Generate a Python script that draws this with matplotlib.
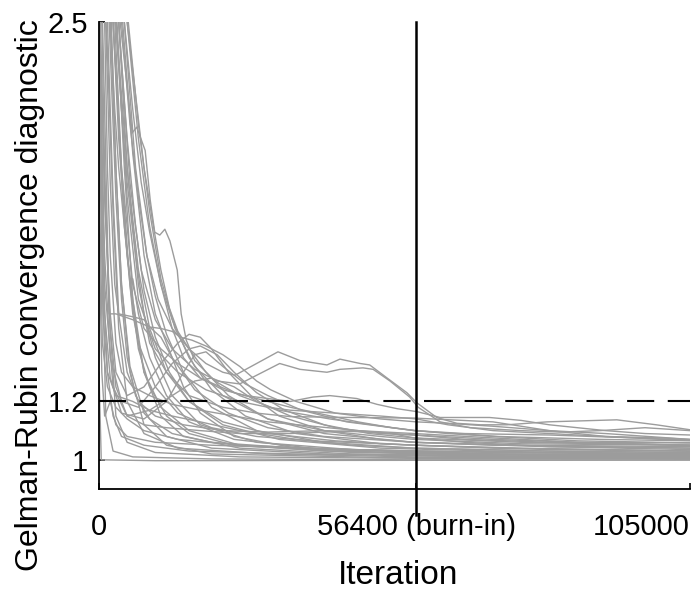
import matplotlib
matplotlib.use('Agg')
import matplotlib.pyplot as plt

plt.rcParams.update({'font.family': 'Liberation Sans', 'font.size': 21})

BURN_IN = 56400
N_ITER = 105000
RHAT_LIMIT = 1.2
X_TICKS = [0, BURN_IN, N_ITER]
X_TICK_LABELS = ['0', '56400 (burn-in)', '105000']
Y_TICKS = [1, 1.2, 2.5]
Y_TICK_LABELS = ['1', '1.2', '2.5']

# Gelman-Rubin trace per parameter:
# (iteration in thousands, diagnostic value)
CHAINS = [
    [(0, 1.3), (0.4, 1.0), (10, 0.997), (40, 0.998), (105, 0.999)],
    [(0, 2.9), (0.6, 1.7), (1.2, 1.15), (2.5, 1.03), (6, 1.01), (20, 1.003), (56, 1.0), (105, 1.0)],
    [(0, 3.0), (1.0, 2.2), (1.8, 1.5), (3, 1.15), (5, 1.06), (10, 1.025), (25, 1.01), (56, 1.005), (105, 1.004)],
    [(0, 3.0), (1.5, 2.4), (2.5, 1.85), (3.5, 1.45), (5, 1.2), (8, 1.09), (14, 1.04), (30, 1.02), (56, 1.01), (105, 1.008)],
    [(0, 3.1), (2.0, 2.5), (3, 2.0), (4, 1.6), (5.5, 1.32), (8, 1.16), (12, 1.08), (20, 1.04), (40, 1.02), (70, 1.012), (105, 1.01)],
    [(0, 3.0), (2.5, 2.5), (3.5, 2.15), (4.5, 1.8), (6, 1.5), (8, 1.3), (11, 1.18), (16, 1.1), (25, 1.05), (45, 1.025), (80, 1.015), (105, 1.012)],
    [(0, 3.2), (3, 2.5), (4, 2.2), (5, 1.95), (6.5, 1.7), (8, 1.5), (10, 1.35), (13, 1.22), (18, 1.12), (28, 1.06), (45, 1.035), (70, 1.02), (105, 1.018)],
    [(0, 3.2), (3.5, 2.5), (5, 2.1), (6.5, 1.8), (8, 1.58), (10, 1.42), (12.5, 1.3), (16, 1.2), (22, 1.12), (32, 1.07), (50, 1.04), (80, 1.025), (105, 1.02)],
    [(0, 3.3), (4, 2.5), (5.5, 2.15), (7, 1.9), (8.5, 1.7), (10, 1.56), (12, 1.43), (15, 1.3), (20, 1.18), (28, 1.1), (40, 1.06), (56, 1.04), (80, 1.03), (105, 1.025)],
    [(0, 3.3), (4.5, 2.5), (6, 2.2), (7.5, 1.95), (9, 1.78), (11, 1.6), (13, 1.48), (16, 1.35), (20, 1.24), (26, 1.15), (35, 1.09), (50, 1.055), (70, 1.04), (105, 1.03)],
    [(0, 3.3), (3.7, 2.51), (5.9, 2.12), (6.7, 2.14), (8.2, 2.06), (9.1, 1.89), (9.9, 1.78), (10.8, 1.77), (11.7, 1.79), (12.6, 1.75), (13.9, 1.65), (14.6, 1.5), (15.5, 1.41), (17, 1.34), (20.6, 1.27), (25, 1.22), (32, 1.17), (41, 1.14), (56, 1.1), (71, 1.08), (89, 1.07), (105, 1.065)],
    [(0, 3.3), (5, 2.5), (6.5, 2.25), (8, 2.0), (9.5, 1.82), (11, 1.65), (12.5, 1.52), (14, 1.44), (16, 1.38), (19, 1.3), (23, 1.22), (30, 1.14), (40, 1.09), (56, 1.06), (80, 1.045), (105, 1.04)],
    [(0, 3.1), (2, 2.5), (2.8, 2.2), (3.5, 2.0), (4.5, 1.8), (5.5, 1.62), (6, 1.62), (7, 1.5), (9, 1.35), (12, 1.22), (16, 1.13), (24, 1.07), (40, 1.035), (70, 1.02), (105, 1.015)],
    [(0, 3.0), (1.2, 2.5), (2, 1.95), (2.8, 1.6), (3.5, 1.5), (6, 1.49), (8, 1.48), (9, 1.455), (11, 1.42), (13, 1.35), (15, 1.25), (18, 1.16), (24, 1.08), (35, 1.04), (56, 1.02), (105, 1.01)],
    [(0, 2.7), (1, 1.9), (2, 1.5), (3, 1.3), (5, 1.22), (8, 1.25), (11, 1.33), (14, 1.4), (16, 1.43), (18, 1.42), (20, 1.38), (23, 1.3), (27, 1.22), (32, 1.15), (40, 1.1), (50, 1.07), (56, 1.06), (70, 1.05), (90, 1.045), (105, 1.04)],
    [(0, 2.5), (1, 1.7), (2, 1.35), (4, 1.2), (7, 1.18), (10, 1.25), (13, 1.33), (16, 1.38), (18, 1.39), (21, 1.36), (24, 1.3), (28, 1.23), (33, 1.17), (40, 1.12), (48, 1.09), (56, 1.075), (75, 1.06), (105, 1.05)],
    [(0, 2.2), (1, 1.5), (2, 1.28), (4, 1.16), (8, 1.14), (12, 1.2), (15, 1.3), (17, 1.36), (19, 1.37), (22, 1.32), (26, 1.26), (30, 1.22), (36, 1.17), (44, 1.13), (56, 1.1), (65, 1.09), (80, 1.085), (95, 1.075), (105, 1.068)],
    [(0, 3.0), (1, 2.0), (1.8, 1.5), (3, 1.5), (6, 1.48), (9, 1.455), (11, 1.45), (13, 1.44), (14.5, 1.42), (16.5, 1.41), (19, 1.39), (22, 1.36), (25, 1.32), (28, 1.27), (30.5, 1.24), (35, 1.2), (42, 1.16), (50, 1.14), (56.4, 1.13), (62, 1.125), (70, 1.115), (80, 1.1), (90, 1.09), (105, 1.07)],
    [(0, 3.2), (4.5, 2.5), (6.5, 2.0), (8.5, 1.7), (10.5, 1.55), (13, 1.45), (16, 1.38), (19, 1.33), (22, 1.3), (24.2, 1.29), (31.8, 1.37), (35.7, 1.34), (40.5, 1.325), (42.8, 1.345), (46.4, 1.33), (48.1, 1.325), (51.2, 1.28), (54.7, 1.23), (56.5, 1.195), (60, 1.145), (63.6, 1.125), (67.7, 1.12), (72.5, 1.12), (79.6, 1.13), (92, 1.137), (99, 1.12), (105, 1.103)],
    [(0, 3.1), (3.5, 2.5), (5.5, 1.95), (7.5, 1.65), (10, 1.48), (13, 1.38), (17, 1.31), (21, 1.27), (25, 1.26), (32.1, 1.33), (35.7, 1.31), (40.5, 1.3), (42.8, 1.31), (46.9, 1.315), (48.7, 1.31), (51.7, 1.27), (55.2, 1.215), (56.7, 1.18), (60.6, 1.13), (66, 1.11), (75, 1.1), (82, 1.095), (89, 1.1), (97, 1.11), (105, 1.1)],
    [(0, 3.3), (5, 2.5), (7, 2.1), (9, 1.8), (11, 1.6), (13, 1.45), (15, 1.35), (18, 1.28), (22, 1.24), (26, 1.22), (30, 1.21), (34, 1.2), (38, 1.215), (41, 1.22), (45.8, 1.21), (49.4, 1.19), (53, 1.175), (56.5, 1.165), (60.6, 1.145), (69.4, 1.145), (75, 1.135), (80, 1.12), (90, 1.1), (97, 1.09), (105, 1.085)],
    [(0, 3.0), (3, 2.5), (5, 2.0), (7, 1.6), (9, 1.4), (12, 1.3), (16, 1.22), (22, 1.18), (28, 1.16), (34, 1.148), (45, 1.145), (56, 1.143), (70, 1.13), (80, 1.1), (90, 1.08), (100, 1.07), (105, 1.068)],
    [(0, 3.0), (2.5, 2.5), (4, 2.0), (6, 1.6), (8, 1.45), (11, 1.38), (14, 1.33), (18, 1.28), (24, 1.23), (30, 1.2), (34, 1.18), (40, 1.155), (46, 1.13), (52, 1.11), (56.4, 1.1), (62, 1.09), (70, 1.08), (85, 1.065), (105, 1.058)],
    [(0, 3.0), (3, 2.5), (5, 1.9), (7, 1.55), (10, 1.38), (14, 1.3), (19, 1.24), (25, 1.2), (30, 1.18), (34, 1.17), (42, 1.16), (50, 1.15), (56.4, 1.14), (62, 1.12), (70, 1.1), (80, 1.09), (90, 1.08), (100, 1.075), (105, 1.07)],
    [(0, 3.0), (1.5, 2.5), (2.5, 1.9), (3.5, 1.5), (5, 1.3), (7, 1.2), (10, 1.15), (15, 1.12), (22, 1.1), (30, 1.095), (40, 1.1), (48, 1.095), (56, 1.085), (65, 1.07), (80, 1.06), (105, 1.05)],
    [(0, 2.6), (1, 1.9), (2, 1.45), (3, 1.25), (5, 1.15), (8, 1.12), (12, 1.11), (18, 1.1), (25, 1.09), (34, 1.09), (40, 1.095), (46, 1.1), (52, 1.09), (56, 1.075), (65, 1.06), (80, 1.045), (105, 1.035)],
    [(0, 3.0), (2.5, 2.5), (3.5, 2.1), (5, 1.7), (7, 1.4), (10, 1.25), (14, 1.16), (20, 1.11), (28, 1.08), (38, 1.065), (50, 1.055), (56, 1.05), (75, 1.04), (105, 1.03)],
    [(0, 3.0), (3.5, 2.5), (5, 2.0), (7, 1.65), (9, 1.45), (12, 1.3), (16, 1.2), (22, 1.13), (30, 1.09), (42, 1.065), (56, 1.05), (80, 1.035), (105, 1.03)],
    [(0, 3.2), (4.2, 2.5), (6, 2.05), (8, 1.7), (10, 1.5), (13, 1.35), (17, 1.24), (23, 1.16), (30, 1.11), (40, 1.08), (56, 1.06), (75, 1.05), (105, 1.045)],
    [(0, 3.3), (5.2, 2.5), (7, 2.15), (9, 1.85), (11, 1.62), (13.5, 1.45), (17, 1.32), (22, 1.22), (30, 1.14), (40, 1.1), (50, 1.08), (56, 1.07), (75, 1.055), (105, 1.05)],
    [(0, 1.8), (0.5, 1.3), (1, 1.15), (2, 1.2), (3, 1.12), (5, 1.08), (10, 1.06), (20, 1.05), (35, 1.04), (56, 1.03), (80, 1.025), (105, 1.02)],
    [(0, 2.0), (0.6, 1.4), (1.5, 1.25), (3, 1.18), (5, 1.14), (8, 1.1), (14, 1.07), (25, 1.05), (45, 1.035), (70, 1.025), (105, 1.02)],
    [(0, 2.4), (0.8, 1.6), (1.5, 1.3), (2.5, 1.15), (4, 1.08), (8, 1.05), (16, 1.03), (35, 1.02), (70, 1.01), (105, 1.01)],
    [(0, 3.0), (2.8, 2.5), (4, 2.0), (5.5, 1.6), (7, 1.38), (9, 1.25), (12, 1.15), (16, 1.09), (24, 1.05), (40, 1.03), (70, 1.02), (105, 1.015)],
    [(0, 2.2), (0.7, 1.5), (1.5, 1.3), (3, 1.22), (6, 1.2), (9, 1.17), (13, 1.15), (18, 1.13), (25, 1.1), (35, 1.07), (45, 1.05), (56, 1.04), (80, 1.03), (105, 1.025)],
    [(0, 3.0), (1.8, 2.5), (3, 1.9), (4, 1.55), (5, 1.35), (6.5, 1.22), (9, 1.14), (13, 1.09), (20, 1.06), (35, 1.04), (56, 1.03), (105, 1.02)],
    [(0, 2.5), (1, 1.6), (2.5, 1.25), (5, 1.15), (9, 1.17), (13, 1.22), (17, 1.27), (20, 1.28), (24, 1.25), (28, 1.2), (34, 1.15), (42, 1.11), (50, 1.09), (56, 1.085), (70, 1.07), (85, 1.06), (105, 1.058)],
    [(0, 3.0), (1, 2.5), (1.5, 2.0), (2, 1.7), (3, 1.4), (4, 1.3), (6, 1.25), (9, 1.22), (13, 1.19), (18, 1.17), (24, 1.15), (30, 1.13), (38, 1.115), (46, 1.1), (56, 1.09), (70, 1.075), (85, 1.06), (105, 1.05)],
    [(0, 3.0), (2.2, 2.5), (3, 2.0), (4, 1.6), (5.5, 1.3), (8, 1.12), (12, 1.05), (20, 1.02), (50, 1.008), (105, 1.005)],
    [(0, 3.0), (3.2, 2.5), (4.5, 2.0), (6, 1.55), (8, 1.3), (11, 1.15), (15, 1.08), (25, 1.04), (45, 1.02), (80, 1.012), (105, 1.01)],
]

fig = plt.figure(figsize=(6.99, 5.92), dpi=100)
ax = fig.add_axes([99 / 699, 103 / 592, 591 / 699, 467 / 592])

for chain in CHAINS:
    xs = [p[0] * 1000 for p in chain]
    ys = [p[1] for p in chain]
    ax.plot(xs, ys, color='#9c9c9c', lw=1.0)

ax.axhline(RHAT_LIMIT, color='black', lw=1.5, linestyle=(0, (13, 6.5)))
ax.axvline(BURN_IN, ymin=-0.055, ymax=1, color='black', lw=1.8, clip_on=False)

ax.set_xlim(0, N_ITER)
ax.set_ylim(0.9, 2.5)
ax.set_xticks(X_TICKS)
ax.set_xticklabels(X_TICK_LABELS)
ax.get_xticklabels()[-1].set_ha('right')
ax.set_yticks(Y_TICKS)
ax.set_yticklabels(Y_TICK_LABELS)
ax.tick_params(axis='both', direction='in', length=4, width=1.2, labelsize=21)
ax.tick_params(axis='x', pad=17)
ax.tick_params(axis='y', pad=8)

for side in ['top', 'right']:
    ax.spines[side].set_visible(False)
for side in ['left', 'bottom']:
    ax.spines[side].set_linewidth(1.3)

ax.set_xlabel('Iteration', fontsize=24)
ax.set_ylabel('Gelman-Rubin convergence diagnostic', fontsize=23)
ax.xaxis.set_label_coords(0.506, -0.152)
ax.yaxis.set_label_coords(-0.092, 0.415)

fig.savefig('out.png', dpi=100)
